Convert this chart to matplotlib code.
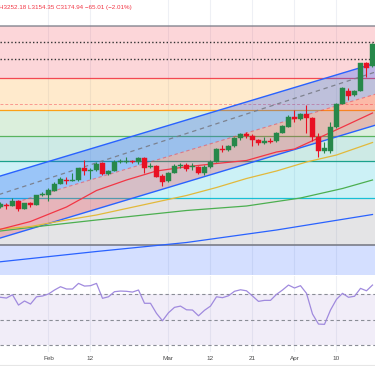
import matplotlib
matplotlib.use("Agg")
import matplotlib.pyplot as plt
import numpy as np

# ---------------- data ----------------
opens  = [2762, 2771, 2767, 2786, 2754, 2777, 2770, 2809, 2810, 2826, 2854, 2870, 2866, 2870, 2917, 2906,
          2910, 2937, 2894, 2907, 2941, 2941, 2946, 2942, 2957, 2921, 2926, 2886, 2867, 2899, 2925, 2930,
          2921, 2921, 2899, 2921, 2943, 2995, 2990, 3007, 3037, 3054, 3046, 3030, 3017, 3027, 3025, 3059,
          3083, 3123, 3114, 3133, 3117, 3043, 2986, 2987, 3081, 3174, 3227, 3209, 3227, 3337, 3326]
highs  = [2782, 2778, 2798, 2790, 2779, 2782, 2811, 2823, 2837, 2863, 2883, 2883, 2897, 2919, 2950, 2917,
          2942, 2943, 2912, 2950, 2953, 2961, 2950, 2961, 2961, 2937, 2930, 2894, 2903, 2934, 2939, 2938,
          2937, 2926, 2929, 2950, 2997, 3010, 3010, 3043, 3059, 3063, 3054, 3034, 3041, 3037, 3063, 3090,
          3130, 3150, 3139, 3170, 3123, 3057, 3022, 3103, 3177, 3243, 3237, 3230, 3339, 3343, 3417]
lows   = [2758, 2754, 2766, 2747, 2753, 2763, 2769, 2806, 2787, 2825, 2853, 2854, 2865, 2867, 2890, 2874,
          2908, 2891, 2892, 2905, 2939, 2937, 2937, 2934, 2899, 2917, 2881, 2846, 2863, 2897, 2917, 2908,
          2910, 2894, 2890, 2917, 2942, 2983, 2988, 3003, 3030, 3037, 3007, 3010, 3014, 3017, 3023, 3057,
          3081, 3103, 3110, 3059, 3027, 2963, 2979, 2979, 3077, 3173, 3190, 3206, 3225, 3281, 3323]
closes = [2774, 2766, 2787, 2754, 2777, 2769, 2809, 2815, 2829, 2854, 2874, 2865, 2870, 2917, 2906, 2910,
          2934, 2894, 2907, 2943, 2946, 2946, 2941, 2957, 2919, 2927, 2883, 2863, 2899, 2926, 2930, 2914,
          2926, 2899, 2923, 2943, 2993, 2989, 3007, 3039, 3054, 3047, 3029, 3017, 3026, 3023, 3059, 3086,
          3123, 3113, 3133, 3117, 3043, 2987, 2998, 3083, 3174, 3237, 3206, 3227, 3337, 3319, 3414]

rsi = [67.6, 67.0, 69.6, 61.5, 64.7, 62.3, 68.0, 68.6, 70.2, 73.3, 75.9, 74.1, 74.1, 78.5, 76.4, 76.7,
       78.5, 66.8, 68.0, 72.0, 72.5, 72.3, 71.7, 73.3, 62.9, 62.9, 55.0, 49.2, 55.5, 59.7, 60.7, 57.8,
       57.6, 53.1, 57.4, 60.7, 68.0, 67.3, 68.8, 72.3, 73.5, 72.7, 68.6, 64.4, 65.2, 65.2, 69.9, 73.3,
       77.2, 74.9, 76.7, 70.7, 54.5, 46.6, 46.4, 57.6, 66.0, 70.7, 67.6, 68.4, 74.6, 72.7, 77.2]

tick_pos = [8, 15, 28, 35, 42, 49, 56]
tick_labels = ["Feb", "12", "Mar", "12", "21", "Apr", "10"]

# moving averages (sampled)
ma20_idx = [0, 5, 11, 16, 21, 26, 31, 36, 41, 46, 49, 53, 57, 62]
ma20_val = [2673, 2704, 2762, 2828, 2870, 2906, 2923, 2936, 2948, 2982, 2994, 3038, 3082, 3138]
ma50_idx = [0, 5, 11, 16, 21, 26, 31, 36, 41, 46, 51, 56, 62]
ma50_val = [2674, 2684, 2710, 2730, 2756, 2782, 2808, 2840, 2876, 2906, 2942, 2970, 3020]
ma100_idx = [0, 7, 16, 31, 41, 50, 57, 62]
ma100_val = [2666, 2686, 2710, 2748, 2766, 2798, 2836, 2870]
ma200_idx = [0, 16, 31, 46, 62]
ma200_val = [2543, 2584, 2620, 2670, 2732]

# Fibonacci retracement
fib_top, fib_bottom = 3486, 2610
fib_ratios = [0, 0.236, 0.382, 0.5, 0.618, 0.786, 1, 1.618]
fib_colors = ['#787b86', '#f23645', '#ff9800', '#4caf50', '#089981', '#00bcd4', '#787b86', '#2962ff']

# regression channel (upper / base / lower) and a dashed trend line
chan_x = [-1, 63]
chan_upper = [2879, 3341]
chan_base = [2755, 3217]
chan_lower = [2631, 3093]
trend_x = [-1, 63]
trend_y = [2806, 3306]

dotted_levels = [3422, 3354]
last_price = 3174.94
legend_text = "H3252.18 L3154.35 C3174.94 \u221265.01 (\u22122.01%)"

# ---------------- figure ----------------
W, H = 375, 366
fig = plt.figure(figsize=(W / 100, H / 100), dpi=100)
fig.patch.set_facecolor('white')
ax = fig.add_axes([0, 91 / H, 1, 275 / H])
ax2 = fig.add_axes([0, 14 / H, 1, 76 / H])

xlim = (-0.083, 62.417)
for a in (ax, ax2):
    a.set_xlim(*xlim)
    for s in a.spines.values():
        s.set_visible(False)
    a.set_facecolor('white')
    for t in tick_pos:
        a.axvline(t, color='#eef0f5', lw=0.8, zorder=0)

ax.set_ylim(2490, 3590)
ax.set_xticks([])
ax.set_yticks([])

# fib zones
levels = [fib_top - r * (fib_top - fib_bottom) for r in fib_ratios]
for k in range(1, len(levels)):
    ax.axhspan(levels[k], levels[k - 1], color=fib_colors[k], alpha=0.2, lw=0, zorder=1)
for k, lv in enumerate(levels):
    lw = 1.3 if fib_colors[k] == '#787b86' else 0.9
    ax.axhline(lv, color=fib_colors[k], lw=lw, alpha=0.9 if k else 0.7, zorder=2)

# dotted horizontal levels
for lv in dotted_levels:
    ax.axhline(lv, color='#333333', lw=1.0, ls=(0, (1, 1.6)), zorder=3)

# last price line
ax.axhline(last_price, color='#f23645', lw=0.7, alpha=0.45, ls=(0, (3, 2)), zorder=3)

# regression channel
ax.fill_between(chan_x, chan_upper, chan_base, color='#2962ff', alpha=0.3, lw=0, zorder=3)
ax.fill_between(chan_x, chan_base, chan_lower, color='#f23645', alpha=0.27, lw=0, zorder=3)
ax.plot(chan_x, chan_upper, color='#2962ff', lw=1.0, zorder=4)
ax.plot(chan_x, chan_lower, color='#2962ff', lw=1.0, zorder=4)
ax.plot(chan_x, chan_base, color='#f23645', lw=0.8, alpha=0.5, ls=(0, (3, 2.5)), zorder=4)
ax.plot(trend_x, trend_y, color='#787b86', lw=0.9, alpha=0.9, ls=(0, (3.5, 3)), zorder=4)

# moving averages
ax.plot(ma200_idx, ma200_val, color='#2962ff', lw=0.9, zorder=5)
ax.plot(ma100_idx, ma100_val, color='#4caf50', lw=0.9, zorder=5)
ax.plot(ma50_idx, ma50_val, color='#e2b93b', lw=0.9, zorder=5)
ax.plot(ma20_idx, ma20_val, color='#f23645', lw=0.9, zorder=5)

# candles
up_col, dn_col = '#27884a', '#e81123'
idx = np.arange(len(opens))
o = np.array(opens, float); c = np.array(closes, float)
hi = np.array(highs, float); lo = np.array(lows, float)
cols = [up_col if cc >= oo else dn_col for oo, cc in zip(o, c)]
ax.vlines(idx, lo, hi, colors=cols, lw=0.8, zorder=6)
body_bottom = np.minimum(o, c)
body_h = np.maximum(np.abs(c - o), 4.0)
ax.bar(idx, body_h, bottom=body_bottom, width=0.74, color=cols, edgecolor=cols, lw=0.3, zorder=7)

# legend text
fig.text(-1 / W, 1 - 7.5 / H, legend_text, color='#f23645', fontsize=4.5,
         family='Liberation Sans', ha='left', va='center')

# ---------------- RSI ----------------
ax2.set_ylim(24.7, 84.3)
ax2.set_yticks([])
ax2.axhspan(30, 70, color='#7e57c2', alpha=0.1, lw=0, zorder=1)
for lv in (70, 50, 30):
    ax2.axhline(lv, color='#8a8d96', lw=0.8, ls=(0, (3, 2.5)), zorder=2)
ax2.plot(idx, rsi, color='#a08ade', lw=0.9, zorder=3)
ax2.set_xticks(tick_pos)
ax2.set_xticklabels(tick_labels, fontsize=4.6, color='#4a4a4a', family='Liberation Sans')
ax2.tick_params(axis='x', length=0, pad=3.2)

fig.add_artist(plt.Line2D([0, 1], [1.5 / H, 1.5 / H], color='#e6e6e6', lw=0.8))

fig.savefig('out.png', dpi=100, facecolor='white')
